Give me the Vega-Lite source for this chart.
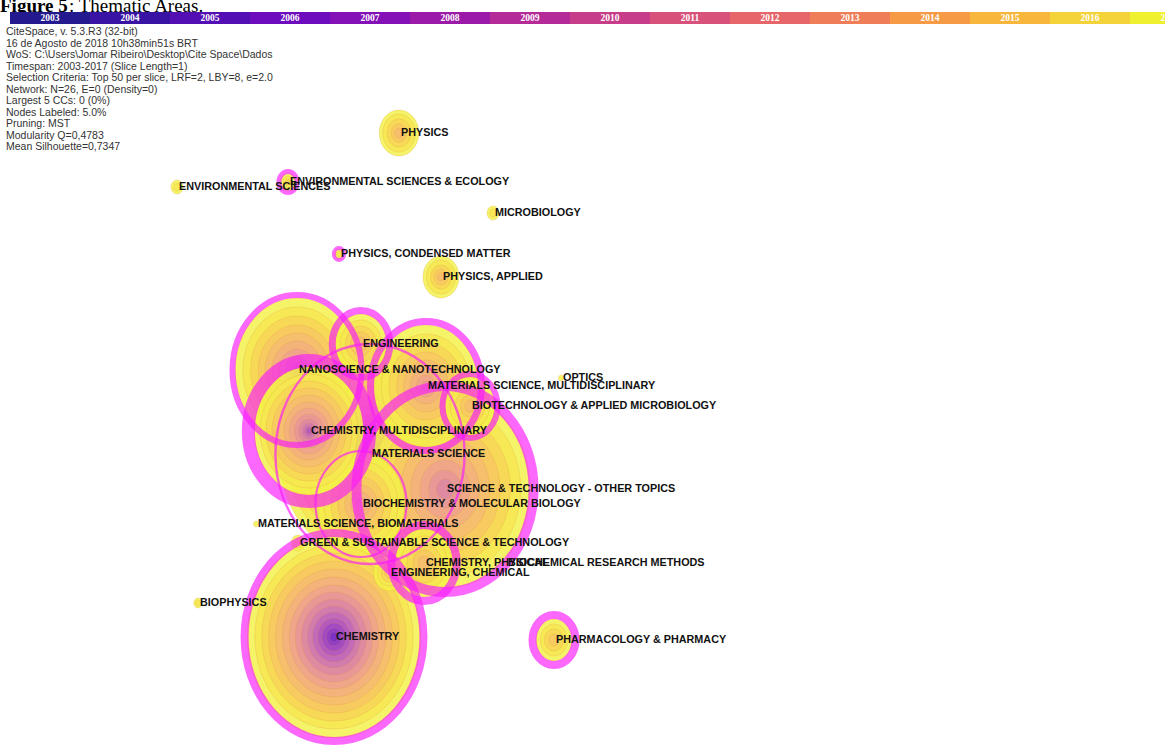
{
  "$schema": "https://vega.github.io/schema/vega-lite/v6.json",
  "width": 1165,
  "height": 745,
  "autosize": {"type": "none"},
  "padding": 0,
  "background": "white",
  "config": {"view": {"stroke": null}},
  "datasets": {
    "years": [
      {"yr": 2003}, {"yr": 2004}, {"yr": 2005}, {"yr": 2006}, {"yr": 2007},
      {"yr": 2008}, {"yr": 2009}, {"yr": 2010}, {"yr": 2011}, {"yr": 2012},
      {"yr": 2013}, {"yr": 2014}, {"yr": 2015}, {"yr": 2016}, {"yr": 2017}
    ],
    "nodes": [
      {"n": "MATERIALS SCIENCE", "x": 370, "y": 454, "hr": 110, "c": 0.03},
      {"n": "SCIENCE & TECHNOLOGY - OTHER TOPICS", "x": 445, "y": 489, "hr": 103, "c": 0.125},
      {"n": "NANOSCIENCE & NANOTECHNOLOGY", "x": 297, "y": 370, "hr": 75, "c": 0.075},
      {"n": "MATERIALS SCIENCE, MULTIDISCIPLINARY", "x": 426, "y": 386, "hr": 64.5, "c": 0.0875},
      {"n": "BIOCHEMISTRY & MOLECULAR BIOLOGY", "x": 361, "y": 504, "hr": 53, "c": 0.025},
      {"n": "CHEMISTRY, PHYSICAL", "x": 424, "y": 563, "hr": 38, "c": 0.1},
      {"n": "ENGINEERING", "x": 361, "y": 344, "hr": 33.5, "c": 0.0875},
      {"n": "BIOTECHNOLOGY & APPLIED MICROBIOLOGY", "x": 470, "y": 406, "hr": 32, "c": 0.075},
      {"n": "CHEMISTRY, MULTIDISCIPLINARY", "x": 309, "y": 431, "hr": 70.5, "c": 0.1625},
      {"n": "CHEMISTRY", "x": 334, "y": 637, "hr": 104, "c": 0.1},
      {"n": "ENGINEERING, CHEMICAL", "x": 389, "y": 573, "hr": 0, "c": 0},
      {"n": "PHARMACOLOGY & PHARMACY", "x": 554, "y": 640, "hr": 25, "c": 0.1},
      {"n": "PHYSICS", "x": 399, "y": 133, "hr": 0, "c": 0},
      {"n": "PHYSICS, APPLIED", "x": 441, "y": 277, "hr": 0, "c": 0},
      {"n": "ENVIRONMENTAL SCIENCES & ECOLOGY", "x": 288, "y": 182, "hr": 10.5, "c": 0.0625},
      {"n": "ENVIRONMENTAL SCIENCES", "x": 177, "y": 187, "hr": 0, "c": 0},
      {"n": "MICROBIOLOGY", "x": 493, "y": 213, "hr": 0, "c": 0},
      {"n": "PHYSICS, CONDENSED MATTER", "x": 339, "y": 254, "hr": 6, "c": 0.05},
      {"n": "OPTICS", "x": 561, "y": 378, "hr": 0, "c": 0},
      {"n": "MATERIALS SCIENCE, BIOMATERIALS", "x": 256, "y": 524, "hr": 0, "c": 0},
      {"n": "GREEN & SUSTAINABLE SCIENCE & TECHNOLOGY", "x": 298, "y": 543, "hr": 0, "c": 0},
      {"n": "BIOCHEMICAL RESEARCH METHODS", "x": 506, "y": 563, "hr": 0, "c": 0},
      {"n": "BIOPHYSICS", "x": 198, "y": 603, "hr": 0, "c": 0}
    ],
    "rings": [
      {"n": "MATERIALS SCIENCE", "yr": 2017, "r": 106},
      {"n": "MATERIALS SCIENCE", "yr": 2016, "r": 97},
      {"n": "MATERIALS SCIENCE", "yr": 2015, "r": 88},
      {"n": "MATERIALS SCIENCE", "yr": 2014, "r": 78},
      {"n": "MATERIALS SCIENCE", "yr": 2013, "r": 68},
      {"n": "MATERIALS SCIENCE", "yr": 2012, "r": 58},
      {"n": "MATERIALS SCIENCE", "yr": 2011, "r": 48},
      {"n": "MATERIALS SCIENCE", "yr": 2010, "r": 39},
      {"n": "MATERIALS SCIENCE", "yr": 2009, "r": 30},
      {"n": "MATERIALS SCIENCE", "yr": 2008, "r": 22},
      {"n": "MATERIALS SCIENCE", "yr": 2007, "r": 15},
      {"n": "MATERIALS SCIENCE", "yr": 2006, "r": 9},
      {"n": "MATERIALS SCIENCE", "yr": 2005, "r": 5},
      {"n": "SCIENCE & TECHNOLOGY - OTHER TOPICS", "yr": 2017, "r": 99},
      {"n": "SCIENCE & TECHNOLOGY - OTHER TOPICS", "yr": 2016, "r": 88},
      {"n": "SCIENCE & TECHNOLOGY - OTHER TOPICS", "yr": 2015, "r": 76},
      {"n": "SCIENCE & TECHNOLOGY - OTHER TOPICS", "yr": 2014, "r": 64},
      {"n": "SCIENCE & TECHNOLOGY - OTHER TOPICS", "yr": 2013, "r": 52},
      {"n": "SCIENCE & TECHNOLOGY - OTHER TOPICS", "yr": 2012, "r": 40},
      {"n": "SCIENCE & TECHNOLOGY - OTHER TOPICS", "yr": 2011, "r": 29},
      {"n": "SCIENCE & TECHNOLOGY - OTHER TOPICS", "yr": 2010, "r": 19},
      {"n": "SCIENCE & TECHNOLOGY - OTHER TOPICS", "yr": 2009, "r": 10},
      {"n": "NANOSCIENCE & NANOTECHNOLOGY", "yr": 2017, "r": 72},
      {"n": "NANOSCIENCE & NANOTECHNOLOGY", "yr": 2016, "r": 63},
      {"n": "NANOSCIENCE & NANOTECHNOLOGY", "yr": 2015, "r": 54},
      {"n": "NANOSCIENCE & NANOTECHNOLOGY", "yr": 2014, "r": 45},
      {"n": "NANOSCIENCE & NANOTECHNOLOGY", "yr": 2013, "r": 37},
      {"n": "NANOSCIENCE & NANOTECHNOLOGY", "yr": 2012, "r": 29},
      {"n": "NANOSCIENCE & NANOTECHNOLOGY", "yr": 2011, "r": 21},
      {"n": "NANOSCIENCE & NANOTECHNOLOGY", "yr": 2010, "r": 14},
      {"n": "NANOSCIENCE & NANOTECHNOLOGY", "yr": 2009, "r": 8},
      {"n": "NANOSCIENCE & NANOTECHNOLOGY", "yr": 2008, "r": 4},
      {"n": "MATERIALS SCIENCE, MULTIDISCIPLINARY", "yr": 2017, "r": 61},
      {"n": "MATERIALS SCIENCE, MULTIDISCIPLINARY", "yr": 2016, "r": 52},
      {"n": "MATERIALS SCIENCE, MULTIDISCIPLINARY", "yr": 2015, "r": 43},
      {"n": "MATERIALS SCIENCE, MULTIDISCIPLINARY", "yr": 2014, "r": 34},
      {"n": "MATERIALS SCIENCE, MULTIDISCIPLINARY", "yr": 2013, "r": 26},
      {"n": "MATERIALS SCIENCE, MULTIDISCIPLINARY", "yr": 2012, "r": 18},
      {"n": "MATERIALS SCIENCE, MULTIDISCIPLINARY", "yr": 2011, "r": 11},
      {"n": "MATERIALS SCIENCE, MULTIDISCIPLINARY", "yr": 2010, "r": 5},
      {"n": "BIOCHEMISTRY & MOLECULAR BIOLOGY", "yr": 2017, "r": 51},
      {"n": "BIOCHEMISTRY & MOLECULAR BIOLOGY", "yr": 2016, "r": 43},
      {"n": "BIOCHEMISTRY & MOLECULAR BIOLOGY", "yr": 2015, "r": 35},
      {"n": "BIOCHEMISTRY & MOLECULAR BIOLOGY", "yr": 2014, "r": 27},
      {"n": "BIOCHEMISTRY & MOLECULAR BIOLOGY", "yr": 2013, "r": 19},
      {"n": "BIOCHEMISTRY & MOLECULAR BIOLOGY", "yr": 2012, "r": 12},
      {"n": "BIOCHEMISTRY & MOLECULAR BIOLOGY", "yr": 2011, "r": 6},
      {"n": "CHEMISTRY, PHYSICAL", "yr": 2017, "r": 34},
      {"n": "CHEMISTRY, PHYSICAL", "yr": 2016, "r": 27},
      {"n": "CHEMISTRY, PHYSICAL", "yr": 2015, "r": 20},
      {"n": "CHEMISTRY, PHYSICAL", "yr": 2014, "r": 13},
      {"n": "CHEMISTRY, PHYSICAL", "yr": 2013, "r": 7},
      {"n": "ENGINEERING", "yr": 2017, "r": 30},
      {"n": "ENGINEERING", "yr": 2016, "r": 24},
      {"n": "ENGINEERING", "yr": 2015, "r": 18},
      {"n": "ENGINEERING", "yr": 2014, "r": 12},
      {"n": "ENGINEERING", "yr": 2013, "r": 7},
      {"n": "BIOTECHNOLOGY & APPLIED MICROBIOLOGY", "yr": 2017, "r": 29},
      {"n": "BIOTECHNOLOGY & APPLIED MICROBIOLOGY", "yr": 2016, "r": 23},
      {"n": "BIOTECHNOLOGY & APPLIED MICROBIOLOGY", "yr": 2015, "r": 17},
      {"n": "BIOTECHNOLOGY & APPLIED MICROBIOLOGY", "yr": 2014, "r": 11},
      {"n": "BIOTECHNOLOGY & APPLIED MICROBIOLOGY", "yr": 2013, "r": 6},
      {"n": "CHEMISTRY, MULTIDISCIPLINARY", "yr": 2017, "r": 64},
      {"n": "CHEMISTRY, MULTIDISCIPLINARY", "yr": 2016, "r": 57},
      {"n": "CHEMISTRY, MULTIDISCIPLINARY", "yr": 2015, "r": 50},
      {"n": "CHEMISTRY, MULTIDISCIPLINARY", "yr": 2014, "r": 43},
      {"n": "CHEMISTRY, MULTIDISCIPLINARY", "yr": 2013, "r": 36},
      {"n": "CHEMISTRY, MULTIDISCIPLINARY", "yr": 2012, "r": 29},
      {"n": "CHEMISTRY, MULTIDISCIPLINARY", "yr": 2011, "r": 23},
      {"n": "CHEMISTRY, MULTIDISCIPLINARY", "yr": 2010, "r": 17},
      {"n": "CHEMISTRY, MULTIDISCIPLINARY", "yr": 2009, "r": 12},
      {"n": "CHEMISTRY, MULTIDISCIPLINARY", "yr": 2008, "r": 8},
      {"n": "CHEMISTRY, MULTIDISCIPLINARY", "yr": 2007, "r": 5},
      {"n": "CHEMISTRY, MULTIDISCIPLINARY", "yr": 2006, "r": 3},
      {"n": "CHEMISTRY", "yr": 2017, "r": 101},
      {"n": "CHEMISTRY", "yr": 2016, "r": 92},
      {"n": "CHEMISTRY", "yr": 2015, "r": 84},
      {"n": "CHEMISTRY", "yr": 2014, "r": 76},
      {"n": "CHEMISTRY", "yr": 2013, "r": 68},
      {"n": "CHEMISTRY", "yr": 2012, "r": 60},
      {"n": "CHEMISTRY", "yr": 2011, "r": 52},
      {"n": "CHEMISTRY", "yr": 2010, "r": 45},
      {"n": "CHEMISTRY", "yr": 2009, "r": 38},
      {"n": "CHEMISTRY", "yr": 2008, "r": 31},
      {"n": "CHEMISTRY", "yr": 2007, "r": 25},
      {"n": "CHEMISTRY", "yr": 2006, "r": 19},
      {"n": "CHEMISTRY", "yr": 2005, "r": 14},
      {"n": "CHEMISTRY", "yr": 2004, "r": 9},
      {"n": "CHEMISTRY", "yr": 2003, "r": 5},
      {"n": "ENGINEERING, CHEMICAL", "yr": 2017, "r": 18},
      {"n": "ENGINEERING, CHEMICAL", "yr": 2016, "r": 13},
      {"n": "ENGINEERING, CHEMICAL", "yr": 2015, "r": 9},
      {"n": "ENGINEERING, CHEMICAL", "yr": 2014, "r": 5},
      {"n": "PHARMACOLOGY & PHARMACY", "yr": 2017, "r": 21},
      {"n": "PHARMACOLOGY & PHARMACY", "yr": 2016, "r": 16},
      {"n": "PHARMACOLOGY & PHARMACY", "yr": 2015, "r": 11},
      {"n": "PHARMACOLOGY & PHARMACY", "yr": 2014, "r": 6},
      {"n": "PHYSICS", "yr": 2017, "r": 23},
      {"n": "PHYSICS", "yr": 2016, "r": 19},
      {"n": "PHYSICS", "yr": 2015, "r": 14},
      {"n": "PHYSICS", "yr": 2014, "r": 9},
      {"n": "PHYSICS", "yr": 2013, "r": 5},
      {"n": "PHYSICS, APPLIED", "yr": 2017, "r": 21},
      {"n": "PHYSICS, APPLIED", "yr": 2016, "r": 17},
      {"n": "PHYSICS, APPLIED", "yr": 2015, "r": 12},
      {"n": "PHYSICS, APPLIED", "yr": 2014, "r": 8},
      {"n": "PHYSICS, APPLIED", "yr": 2013, "r": 4},
      {"n": "ENVIRONMENTAL SCIENCES & ECOLOGY", "yr": 2017, "r": 9},
      {"n": "ENVIRONMENTAL SCIENCES & ECOLOGY", "yr": 2016, "r": 6},
      {"n": "ENVIRONMENTAL SCIENCES & ECOLOGY", "yr": 2015, "r": 3},
      {"n": "ENVIRONMENTAL SCIENCES", "yr": 2017, "r": 7},
      {"n": "ENVIRONMENTAL SCIENCES", "yr": 2016, "r": 4},
      {"n": "MICROBIOLOGY", "yr": 2017, "r": 7},
      {"n": "MICROBIOLOGY", "yr": 2016, "r": 4},
      {"n": "PHYSICS, CONDENSED MATTER", "yr": 2017, "r": 5},
      {"n": "PHYSICS, CONDENSED MATTER", "yr": 2016, "r": 3},
      {"n": "OPTICS", "yr": 2017, "r": 3},
      {"n": "MATERIALS SCIENCE, BIOMATERIALS", "yr": 2017, "r": 3},
      {"n": "GREEN & SUSTAINABLE SCIENCE & TECHNOLOGY", "yr": 2017, "r": 8},
      {"n": "GREEN & SUSTAINABLE SCIENCE & TECHNOLOGY", "yr": 2016, "r": 5},
      {"n": "BIOCHEMICAL RESEARCH METHODS", "yr": 2017, "r": 3},
      {"n": "BIOPHYSICS", "yr": 2017, "r": 5},
      {"n": "BIOPHYSICS", "yr": 2016, "r": 3}
    ]
  },
  "resolve": {"scale": {"x": "independent"}},
  "layer": [
    {
      "data": {"values": [{"part": "title"}]},
      "layer": [
        {
          "mark": {"type": "text", "font": "Liberation Serif", "fontWeight": "bold", "fontSize": 19, "align": "left", "baseline": "alphabetic", "fill": "black", "text": "Figure 5"},
          "encoding": {
            "x": {"datum": 0, "type": "quantitative", "scale": {"domain": [0, 1165], "nice": false, "zero": false}, "axis": null},
            "y": {"datum": 11.5, "type": "quantitative", "scale": {"domain": [0, 745], "nice": false, "zero": false, "reverse": true}, "axis": null}
          }
        },
        {
          "mark": {"type": "text", "font": "Liberation Serif", "fontSize": 19, "align": "left", "baseline": "alphabetic", "fill": "black", "text": ": Thematic Areas."},
          "encoding": {
            "x": {"datum": 69, "type": "quantitative", "axis": null},
            "y": {"datum": 11.5, "type": "quantitative", "axis": null}
          }
        }
      ]
    },
    {
      "data": {"name": "years"},
      "layer": [
        {
          "mark": {"type": "rect"},
          "encoding": {
            "x": {"field": "yr", "type": "ordinal", "scale": {"range": [10, 1210], "paddingInner": 0, "paddingOuter": 0}, "axis": null},
            "y": {"datum": 12, "type": "quantitative", "scale": {"domain": [0, 745], "nice": false, "zero": false, "reverse": true}, "axis": null},
            "y2": {"datum": 24},
            "color": {"field": "yr", "type": "ordinal", "legend": null,
              "scale": {"domain": [2003, 2004, 2005, 2006, 2007, 2008, 2009, 2010, 2011, 2012, 2013, 2014, 2015, 2016, 2017],
                "range": ["#231a90", "#3914a4", "#540fb4", "#6d0cbe", "#8410b8", "#9b1ba8", "#b42b98", "#c73d89", "#d8517a", "#e6666a", "#ef7e58", "#f69a46", "#f8b73c", "#f4d23a", "#eef030"]}}
          }
        },
        {
          "mark": {"type": "text", "font": "Liberation Serif", "fontWeight": "bold", "fontSize": 9.5, "fill": "white", "baseline": "middle", "align": "center"},
          "encoding": {
            "x": {"field": "yr", "type": "ordinal", "axis": null},
            "y": {"datum": 18, "type": "quantitative", "axis": null},
            "text": {"field": "yr", "type": "nominal"}
          }
        }
      ]
    },
    {
      "data": {"name": "rings"},
      "transform": [{"lookup": "n", "from": {"data": {"name": "nodes"}, "key": "n", "fields": ["x", "y"]}}],
      "mark": {"type": "point", "shape": "M0.86,0C0.86,0.5523,0.475,1,0,1C-0.475,1,-0.86,0.5523,-0.86,0C-0.86,-0.5523,-0.475,-1,0,-1C0.475,-1,0.86,-0.5523,0.86,0Z", "filled": true, "fillOpacity": 0.82, "stroke": "#d98a3a", "strokeWidth": 0.6, "strokeOpacity": 0.35},
      "encoding": {
        "x": {"field": "x", "type": "quantitative", "scale": {"domain": [0, 1165], "nice": false, "zero": false}, "axis": null},
        "y": {"field": "y", "type": "quantitative", "scale": {"domain": [0, 745], "nice": false, "zero": false, "reverse": true}, "axis": null},
        "size": {"field": "r", "type": "quantitative", "legend": null, "scale": {"type": "pow", "exponent": 2, "domain": [0, 100], "range": [0, 40000]}},
        "fill": {"field": "yr", "type": "ordinal", "legend": null,
          "scale": {"domain": [2003, 2004, 2005, 2006, 2007, 2008, 2009, 2010, 2011, 2012, 2013, 2014, 2015, 2016, 2017],
            "range": ["#7a2fc4", "#8e3cc6", "#a048c4", "#b258c0", "#c068bc", "#d078b0", "#dc88a4", "#e69698", "#eea48c", "#f2b07e", "#f5bc70", "#f8c864", "#f8d658", "#f6e650", "#f3f248"]}}
      }
    },
    {
      "data": {"name": "nodes"},
      "transform": [{"filter": "datum.c > 0"}],
      "mark": {"type": "point", "shape": "M0.86,0C0.86,0.5523,0.475,1,0,1C-0.475,1,-0.86,0.5523,-0.86,0C-0.86,-0.5523,-0.475,-1,0,-1C0.475,-1,0.86,-0.5523,0.86,0Z", "filled": false, "stroke": "#fa1efa", "strokeOpacity": 0.95},
      "encoding": {
        "x": {"field": "x", "type": "quantitative", "scale": {"domain": [0, 1165], "nice": false, "zero": false}, "axis": null},
        "y": {"field": "y", "type": "quantitative", "scale": {"domain": [0, 745], "nice": false, "zero": false, "reverse": true}, "axis": null},
        "size": {"field": "hr", "type": "quantitative", "legend": null, "scale": {"type": "pow", "exponent": 2, "domain": [0, 100], "range": [0, 40000]}},
        "strokeWidth": {"field": "c", "type": "quantitative", "legend": null, "scale": {"domain": [0, 0.2], "range": [0, 16]}}
      }
    },
    {
      "data": {"name": "nodes"},
      "mark": {"type": "text", "font": "Liberation Sans", "fontWeight": "bold", "fontSize": 10.8, "align": "left", "baseline": "middle", "dx": 2, "fill": "#111111"},
      "encoding": {
        "x": {"field": "x", "type": "quantitative", "scale": {"domain": [0, 1165], "nice": false, "zero": false}, "axis": null},
        "y": {"field": "y", "type": "quantitative", "scale": {"domain": [0, 745], "nice": false, "zero": false, "reverse": true}, "axis": null},
        "text": {"field": "n", "type": "nominal"}
      }
    },
    {
      "data": {"values": [{"part": "info"}]},
      "mark": {"type": "text", "font": "Liberation Sans", "fontSize": 10.5, "align": "left", "baseline": "top", "lineHeight": 11.5, "fill": "#333333",
        "text": ["CiteSpace, v. 5.3.R3 (32-bit)", "16 de Agosto de 2018 10h38min51s BRT", "WoS: C:\\Users\\Jomar Ribeiro\\Desktop\\Cite Space\\Dados", "Timespan: 2003-2017 (Slice Length=1)", "Selection Criteria: Top 50 per slice, LRF=2, LBY=8, e=2.0", "Network: N=26, E=0 (Density=0)", "Largest 5 CCs: 0 (0%)", "Nodes Labeled: 5.0%", "Pruning: MST", "Modularity Q=0,4783", "Mean Silhouette=0,7347"]},
      "encoding": {
        "x": {"datum": 6, "type": "quantitative", "scale": {"domain": [0, 1165], "nice": false, "zero": false}, "axis": null},
        "y": {"datum": 27, "type": "quantitative", "axis": null}
      }
    }
  ]
}
